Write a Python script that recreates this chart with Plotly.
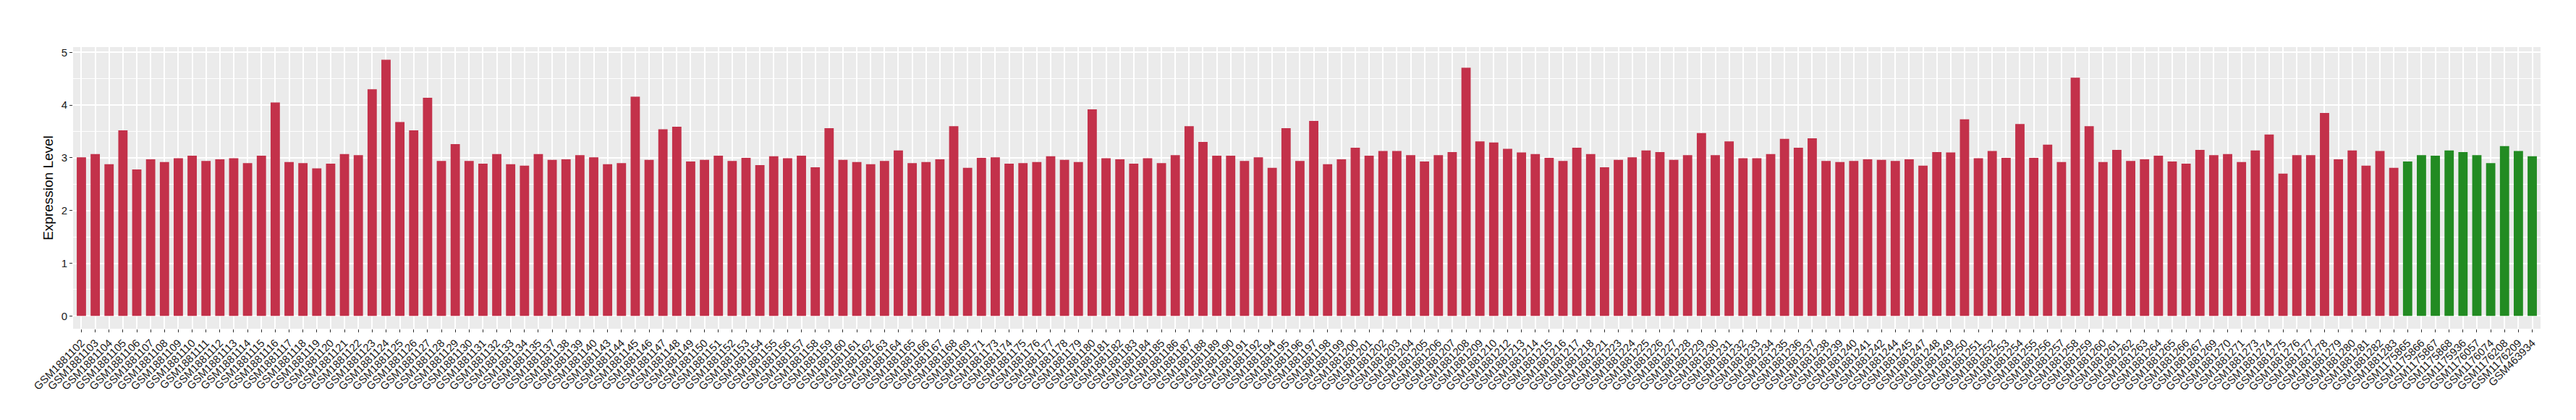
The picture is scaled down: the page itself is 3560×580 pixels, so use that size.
import plotly.graph_objects as go

# ---- data ----
red_ids = [102,103,104,105,106,107,108,109,110,111,112,113,114,115,116,117,118,119,120,121,
           122,123,124,125,126,127,128,129,130,131,132,133,134,135,137,138,139,140,143,144,
           145,146,147,148,149,150,151,152,153,154,155,156,157,158,159,160,161,162,163,164,
           165,166,167,168,169,171,173,174,175,176,177,178,179,180,181,182,183,184,185,186,
           187,188,189,190,191,192,194,195,196,197,198,199,200,201,202,203,204,205,206,207,
           208,209,210,212,213,214,215,216,217,218,221,223,224,225,226,227,228,229,230,231,
           232,233,234,235,236,237,238,239,240,241,242,244,245,247,248,249,250,251,252,253,
           254,255,256,257,258,259,260,261,262,263,264,265,266,267,269,270,271,273,274,275,
           276,277,278,279,280,281,282,283]
red_labels = ["GSM1881" + str(n) for n in red_ids]
red_values = [3.01,3.07,2.88,3.52,2.78,2.97,2.92,2.99,3.04,2.94,2.97,2.99,2.90,3.04,4.05,2.92,2.90,2.80,2.89,3.07,
              3.05,4.30,4.86,3.68,3.52,4.14,2.94,3.26,2.94,2.89,3.07,2.88,2.85,3.07,2.96,2.97,3.05,3.01,2.88,2.90,
              4.16,2.96,3.54,3.59,2.93,2.96,3.04,2.94,3.00,2.86,3.03,2.99,3.04,2.82,3.56,2.96,2.92,2.88,2.94,3.14,
              2.90,2.92,2.97,3.60,2.81,3.00,3.01,2.89,2.90,2.92,3.03,2.96,2.92,3.92,2.99,2.97,2.89,2.99,2.90,3.05,
              3.60,3.30,3.04,3.04,2.94,3.01,2.81,3.56,2.94,3.70,2.88,2.97,3.19,3.04,3.13,3.13,3.05,2.93,3.05,3.11,
              4.71,3.31,3.29,3.17,3.10,3.07,3.00,2.94,3.19,3.07,2.82,2.96,3.01,3.14,3.11,2.96,3.05,3.47,3.05,3.31,
              2.99,2.99,3.07,3.36,3.19,3.37,2.94,2.92,2.94,2.97,2.96,2.94,2.97,2.85,3.11,3.10,3.73,2.99,3.13,3.00,
              3.64,3.00,3.25,2.92,4.52,3.60,2.92,3.15,2.94,2.97,3.04,2.93,2.89,3.15,3.05,3.07,2.92,3.14,3.44,2.70,
              3.05,3.05,3.85,2.97,3.14,2.85,3.13,2.81]
green_labels = ["GSM1175865","GSM1175866","GSM1175867","GSM1175868","GSM1175936",
                "GSM1176057","GSM1176074","GSM1176208","GSM1176209","GSM463934"]
green_values = [2.93,3.05,3.04,3.14,3.11,3.05,2.90,3.22,3.13,3.03]
y_ticks = [0, 1, 2, 3, 4, 5]

categories = red_labels + green_labels

RED = "#C3314A"
GREEN = "#228B22"

fig = go.Figure()
fig.add_trace(go.Bar(x=red_labels, y=red_values, marker=dict(color=RED, line=dict(width=0)),
                     showlegend=False))
fig.add_trace(go.Bar(x=green_labels, y=green_values, marker=dict(color=GREEN, line=dict(width=0)),
                     showlegend=False))

fig.update_layout(
    width=3560, height=580,
    margin=dict(l=93, r=57, t=57, b=134, autoexpand=False),
    paper_bgcolor="white",
    plot_bgcolor="#EBEBEB",
    barmode="overlay",
    bargap=0.33,
    font=dict(family="Liberation Sans, Arial, sans-serif", color="black"),
)
fig.update_xaxes(
    type="category",
    categoryorder="array", categoryarray=categories,
    tickmode="array", tickvals=categories, ticktext=categories,
    range=[-0.6, len(categories) - 0.4],
    tickangle=-45,
    tickfont=dict(size=15, color="#1a1a1a"),
    ticks="outside", ticklen=4, tickwidth=1, tickcolor="#333333",
    showgrid=True, gridcolor="white", gridwidth=1.6,
    showline=False, zeroline=False,
)
fig.update_yaxes(
    range=[-0.243, 5.10],
    tickmode="array", tickvals=y_ticks,
    tickfont=dict(size=15, color="#1a1a1a"),
    ticks="outside", ticklen=4, tickwidth=1, tickcolor="#333333",
    showgrid=True, gridcolor="white", gridwidth=1.6,
    minor=dict(dtick=0.5, tick0=0, showgrid=True, gridcolor="white", gridwidth=0.8, ticklen=0),
    zeroline=False, showline=False,
    title=dict(text="Expression Level", font=dict(size=19, color="black"), standoff=6),
)

fig.write_html("out.html")
